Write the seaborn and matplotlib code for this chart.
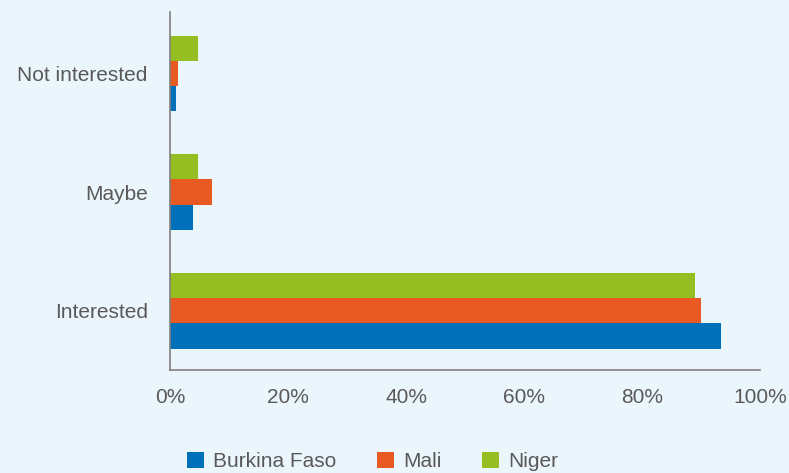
import pandas as pd
import matplotlib.pyplot as plt
import seaborn as sns
from matplotlib.patches import Patch
from matplotlib.ticker import PercentFormatter

# données (en %)
categories = ['Not interested', 'Maybe', 'Interested']
pays = ['Burkina Faso', 'Mali', 'Niger']
burkina = [1.0, 3.9, 93.4]
mali = [1.4, 7.1, 90.0]
niger = [4.7, 4.7, 89.0]

couleurs = {'Burkina Faso': '#0070BA', 'Mali': '#E85A21', 'Niger': '#95BE22'}
fond = '#EBF6FC'
gris = '#595959'

df = pd.DataFrame({
    'categorie': categories * 3,
    'pays': ['Burkina Faso'] * 3 + ['Mali'] * 3 + ['Niger'] * 3,
    'valeur': burkina + mali + niger,
})

sns.set_style('white')
plt.rcParams['font.family'] = ['Liberation Sans', 'DejaVu Sans']

fig = plt.figure(figsize=(7.89, 4.73), dpi=100, facecolor=fond)
ax = fig.add_axes([0.2155, 0.218, 0.748, 0.757])
ax.set_facecolor(fond)

sns.barplot(data=df, x='valeur', y='categorie', hue='pays', order=categories,
            hue_order=['Niger', 'Mali', 'Burkina Faso'], palette=couleurs,
            orient='h', width=0.64, saturation=1, legend=False,
            linewidth=0, edgecolor='none', ax=ax)

ax.set_xlim(0, 100)
ax.set_ylim(2.5, -0.52)
ax.xaxis.set_major_formatter(PercentFormatter(decimals=0))
ax.set_xticks([0, 20, 40, 60, 80, 100])
ax.set_xlabel('')
ax.set_ylabel('')
ax.tick_params(axis='both', length=0, labelsize=15, labelcolor=gris)
ax.tick_params(axis='x', pad=13)
ax.tick_params(axis='y', pad=16)

for s in ['top', 'right']:
    ax.spines[s].set_visible(False)
ax.spines['left'].set_color('#7F7F7F')
ax.spines['left'].set_linewidth(1.2)
ax.spines['bottom'].set_color('#7F7F7F')
ax.spines['bottom'].set_linewidth(1.2)

poignees = [Patch(facecolor=couleurs[p], edgecolor='none', label=p) for p in pays]
fig.legend(handles=poignees, loc='lower center', bbox_to_anchor=(0.472, -0.036), ncol=3,
           frameon=False, fontsize=15, labelcolor=gris, handlelength=0.82,
           handleheight=0.82, handletextpad=0.43, columnspacing=1.95)

fig.savefig('out.png', dpi=100, facecolor=fond)
